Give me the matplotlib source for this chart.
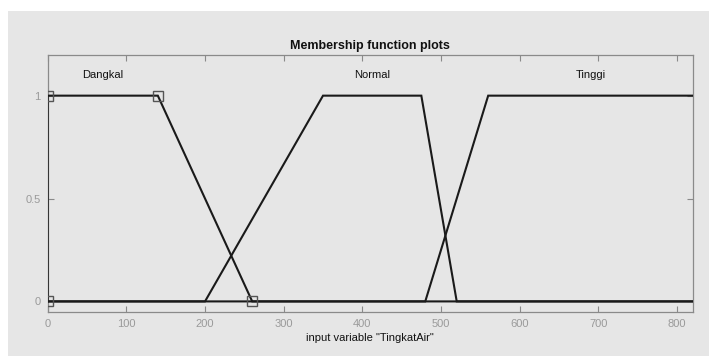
import matplotlib
matplotlib.use("Agg")
import matplotlib.pyplot as plt
from matplotlib.patches import Rectangle

# ---- data ----
x_range = [0, 820]
mf_names = ["Dangkal", "Normal", "Tinggi"]
dangkal_params = [0, 0, 140, 260]
normal_params = [200, 350, 475, 520]
tinggi_params = [480, 560, 820, 820]
label_x = [70, 412.5, 690]
label_y = 1.1
x_ticks = [0, 100, 200, 300, 400, 500, 600, 700, 800]
y_ticks = [0, 0.5, 1]
y_tick_labels = ["0", "0.5", "1"]

plt.rcParams['font.family'] = ['Liberation Sans', 'DejaVu Sans']

fig = plt.figure(figsize=(7.09, 3.56), dpi=100)
fig.patch.set_facecolor('white')
bg = '#e6e6e6'
fig.patches.append(Rectangle((8/709, 0), 1, 1 - 11/356, transform=fig.transFigure,
                             facecolor=bg, edgecolor='none', zorder=-10))

ax = fig.add_axes([47.7/709, 1 - 311.7/356, (692.7-47.7)/709, (311.7-54.5)/356])
ax.set_facecolor(bg)

line_col = '#1a1a1a'
for params in [dangkal_params, normal_params, tinggi_params]:
    a, b, c, d = params
    xs = [x_range[0], a, b, c]
    ys = [0, 0, 1, 1]
    if d > c:
        xs.append(d)
        ys.append(0)
    if d < x_range[1]:
        xs.append(x_range[1])
        ys.append(0)
    ax.plot(xs, ys, color=line_col, lw=1.5, solid_joinstyle='miter', zorder=3)

# selected MF vertices (Dangkal)
mx = [dangkal_params[0], dangkal_params[1], dangkal_params[2], dangkal_params[3]]
my = [0, 1, 1, 0]
ax.plot(mx, my, linestyle='none', marker='s', markersize=6.5, markerfacecolor='none',
        markeredgecolor='#555555', markeredgewidth=1.0, zorder=4)

for name, lx in zip(mf_names, label_x):
    ax.text(lx, label_y, name, ha='center', va='center', fontsize=8, color='#111111')

ax.set_xlim(x_range)
ax.set_ylim(-0.05, 1.2)
ax.set_xticks(x_ticks)
ax.set_xticklabels([str(t) for t in x_ticks])
ax.set_yticks(y_ticks)
ax.set_yticklabels(y_tick_labels)

frame_col = '#8a8a8a'
for s in ax.spines.values():
    s.set_color(frame_col)
    s.set_linewidth(0.9)
ax.tick_params(axis='both', direction='in', length=4, width=0.8, color=frame_col,
               labelcolor='#9a9a9a', labelsize=8, top=True, right=True, pad=5)

ax.set_title("Membership function plots", fontsize=9, fontweight='bold', pad=4, color='#111111')
ax.set_xlabel('input variable "TingkatAir"', fontsize=8, color='#111111', labelpad=3)

fig.savefig("out.png", dpi=100, facecolor=fig.get_facecolor())
